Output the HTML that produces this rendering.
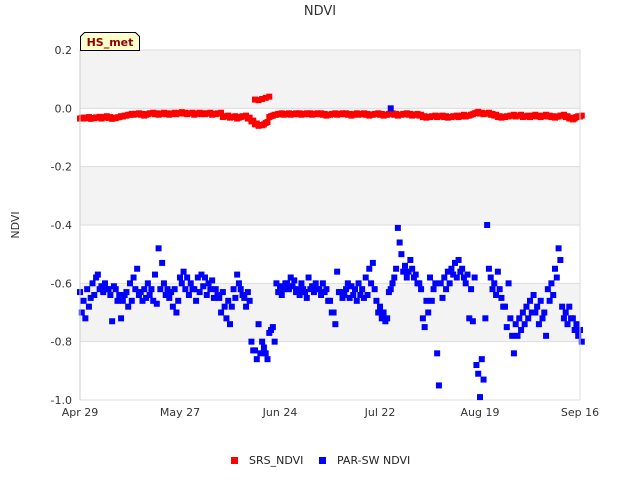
<!DOCTYPE html>
<html><head><meta charset="utf-8"><style>
body{margin:0;background:#fff;font-family:"Liberation Sans","DejaVu Sans",sans-serif}
svg text{font-family:"DejaVu Sans","Liberation Sans",sans-serif}
</style></head><body>
<svg id="chart" width="640" height="480" xmlns="http://www.w3.org/2000/svg">
<rect x="0" y="0" width="640" height="480" fill="#fff"/>
<g id="bands"></g>
<g id="grid"></g>
<g id="srs"></g>
<g id="par"></g>
<g id="axes"></g>
<text x="320" y="15" text-anchor="middle" font-size="13" fill="#333">NDVI</text>
<text transform="translate(19,225) rotate(-90)" text-anchor="middle" font-size="11" fill="#333">NDVI</text>
<g>
<path d="M80.5,50.5 L80.5,36.5 L84.5,32.5 L135.5,32.5 L139.5,36.5 L139.5,50.5 Z" fill="#ffffcc" stroke="#000" stroke-width="1"/>
<text x="110" y="46" text-anchor="middle" font-size="11" font-weight="bold" fill="#8b0000">HS_met</text>
</g>
<g>
<g><rect x="231" y="457" width="7" height="7" fill="#f00"/><text x="249" y="464" font-size="11" fill="#222">SRS_NDVI</text></g>
<g><rect x="319" y="457" width="7" height="7" fill="#00f"/><text x="337" y="464" font-size="11" fill="#222">PAR-SW NDVI</text></g>
</g>
</svg>
<script>
const yTicks=[0.2,0.0,-0.2,-0.4,-0.6,-0.8,-1.0];
const yTickLabels=["0.2","0.0","-0.2","-0.4","-0.6","-0.8","-1.0"];
const xTickDays=[0,28,56,84,112,140];
const xTickLabels=["Apr 29","May 27","Jun 24","Jul 22","Aug 19","Sep 16"];
const srsA=[-0.035,-0.035,-0.033,-0.036,-0.034,-0.032,-0.035,-0.03,-0.033,-0.036,-0.034,-0.03,-0.028,-0.025,-0.022,-0.022,-0.02,-0.022,-0.025,-0.02,-0.018,-0.02,-0.022,-0.018,-0.02,-0.022,-0.018,-0.02,-0.016,-0.018,-0.02,-0.018,-0.022,-0.018,-0.02,-0.02,-0.018,-0.022,-0.02,-0.018,-0.03,-0.028,-0.032,-0.03,-0.035,-0.03,-0.028,-0.035,-0.045,-0.055,-0.06,-0.058,-0.05,-0.03,-0.025,-0.022,-0.02,-0.022,-0.02,-0.022,-0.02,-0.02,-0.022,-0.02,-0.02,-0.022,-0.02,-0.02,-0.022,-0.025,-0.022,-0.02,-0.022,-0.02,-0.02,-0.022,-0.025,-0.02,-0.022,-0.02,-0.022,-0.025,-0.022,-0.02,-0.022,-0.025,-0.022,-0.02,-0.022,-0.025,-0.022,-0.02,-0.022,-0.025,-0.022,-0.025,-0.03,-0.032,-0.03,-0.028,-0.03,-0.028,-0.03,-0.032,-0.03,-0.028,-0.03,-0.025,-0.028,-0.025,-0.02,-0.015,-0.018,-0.02,-0.018,-0.022,-0.025,-0.03,-0.032,-0.03,-0.028,-0.025,-0.028,-0.025,-0.03,-0.028,-0.03,-0.025,-0.028,-0.03,-0.025,-0.028,-0.03,-0.032,-0.028,-0.025,-0.03,-0.035,-0.038,-0.03,-0.028];
const srsBumpDays=[49,50,51,52,53];
const srsBumpVals=[0.03,0.028,0.032,0.036,0.04];
const parA=[-0.63,-0.66,-0.62,-0.65,-0.64,-0.57,-0.61,-0.60,-0.62,-0.73,-0.62,-0.64,-0.66,-0.63,-0.60,-0.58,-0.55,-0.63,-0.62,-0.60,-0.62,-0.57,-0.48,-0.53,-0.64,-0.65,-0.68,-0.70,-0.58,-0.56,-0.58,-0.60,-0.62,-0.58,-0.57,-0.58,-0.60,-0.59,-0.62,-0.65,-0.63,-0.72,-0.74,-0.62,-0.57,-0.62,-0.65,-0.63,-0.80,-0.83,-0.74,-0.80,-0.84,-0.77,-0.75,-0.60,-0.61,-0.62,-0.60,-0.58,-0.59,-0.62,-0.60,-0.63,-0.58,-0.61,-0.60,-0.62,-0.60,-0.62,-0.66,-0.70,-0.56,-0.63,-0.64,-0.60,-0.61,-0.62,-0.60,-0.62,-0.58,-0.55,-0.53,-0.66,-0.68,-0.70,-0.72,-0.62,-0.58,-0.41,-0.50,-0.54,-0.56,-0.55,-0.57,-0.60,-0.72,-0.66,-0.58,-0.62,-0.84,-0.60,-0.58,-0.56,-0.55,-0.53,-0.52,-0.55,-0.60,-0.72,-0.73,-0.88,-0.99,-0.93,-0.40,-0.58,-0.60,-0.56,-0.65,-0.68,-0.60,-0.78,-0.74,-0.72,-0.70,-0.68,-0.66,-0.64,-0.68,-0.66,-0.70,-0.62,-0.60,-0.55,-0.48,-0.68,-0.70,-0.68,-0.72,-0.74,-0.76];
const parB=[-0.70,-0.72,-0.68,-0.60,-0.58,-0.62,-0.63,-0.62,-0.64,-0.61,-0.66,-0.72,-0.64,-0.68,-0.66,-0.62,-0.64,-0.66,-0.65,-0.64,-0.66,-0.67,-0.62,-0.60,-0.62,-0.63,-0.62,-0.66,-0.60,-0.62,-0.64,-0.62,-0.66,-0.63,-0.61,-0.64,-0.62,-0.65,-0.64,-0.70,-0.68,-0.66,-0.68,-0.65,-0.60,-0.64,-0.68,-0.66,-0.83,-0.86,-0.84,-0.82,-0.86,-0.76,-0.80,-0.63,-0.64,-0.60,-0.62,-0.61,-0.63,-0.64,-0.62,-0.65,-0.62,-0.63,-0.62,-0.64,-0.63,-0.66,-0.70,-0.74,-0.63,-0.65,-0.62,-0.65,-0.64,-0.66,-0.64,-0.65,-0.64,-0.60,-0.62,-0.70,-0.72,-0.73,-0.63,-0.60,-0.55,-0.46,-0.56,-0.58,-0.52,-0.58,-0.60,-0.62,-0.75,-0.70,-0.66,-0.60,-0.95,-0.65,-0.62,-0.60,-0.57,-0.58,-0.56,-0.58,-0.57,-0.62,-0.58,-0.91,-0.86,-0.72,-0.55,-0.62,-0.64,-0.62,-0.68,-0.75,-0.72,-0.84,-0.78,-0.76,-0.74,-0.72,-0.70,-0.70,-0.74,-0.72,-0.78,-0.66,-0.64,-0.58,-0.52,-0.72,-0.74,-0.72,-0.76,-0.78,-0.80];
const NS='http://www.w3.org/2000/svg';
const X0=80,X1=580,Y0=50,Y1=400,DMAX=140;
function xs(d){return X0+(d/DMAX)*(X1-X0);}
function ys(v){return Y0+(0.2-v)/1.2*(Y1-Y0);}
function mk(t,a,p){const e=document.createElementNS(NS,t);for(const k in a)e.setAttribute(k,a[k]);p.appendChild(e);return e;}
const bands=document.getElementById('bands'),grid=document.getElementById('grid'),axes=document.getElementById('axes');
for(let i=0;i<yTicks.length-1;i++){
 const r=mk('rect',{x:X0,y:ys(yTicks[i]),width:X1-X0,height:ys(yTicks[i+1])-ys(yTicks[i]),fill:i%2==0?'#f3f3f3':'#fff'},bands);
 
 
}
yTicks.forEach((v,i)=>{
 const l=mk('line',{x1:X0,x2:X1,y1:ys(v),y2:ys(v),stroke:'#ddd','stroke-width':1},grid);
 
 
 const t=mk('text',{x:X0-8,y:ys(v)+4,'text-anchor':'end','font-size':11,fill:'#333'},axes);
 t.textContent=yTickLabels[i];
 
 
});
const ax=mk('line',{x1:X0,x2:X0,y1:Y0,y2:Y1,stroke:'#ccc'},axes);


const rx=mk('line',{x1:X1,x2:X1,y1:Y0,y2:Y1,stroke:'#ddd'},axes);


xTickDays.forEach((d,i)=>{
 const t=mk('text',{x:xs(d),y:Y1+16,'text-anchor':'middle','font-size':11,fill:'#333'},axes);
 t.textContent=xTickLabels[i];
 
 
});
const srs=document.getElementById('srs'),par=document.getElementById('par');
function sq(g,d,v,c,n){const r=mk('rect',{x:xs(d)-3,y:ys(v)-3,width:6,height:6,fill:c},g);}
srsA.forEach((v,d)=>{sq(srs,d,v,'#f00','srs-point');sq(srs,d+0.5,v+0.003,'#f00','srs-point');});
srsBumpDays.forEach((d,i)=>sq(srs,d,srsBumpVals[i],'#f00','srs-point'));
parA.forEach((v,d)=>{if(v!=null)sq(par,d,v,'#00f','par-sw-point');});
parB.forEach((v,d)=>{if(v!=null)sq(par,d+0.5,v,'#00f','par-sw-point');});
sq(par,87,0.0,'#00f','par-sw-point');
</script>
</body></html>
